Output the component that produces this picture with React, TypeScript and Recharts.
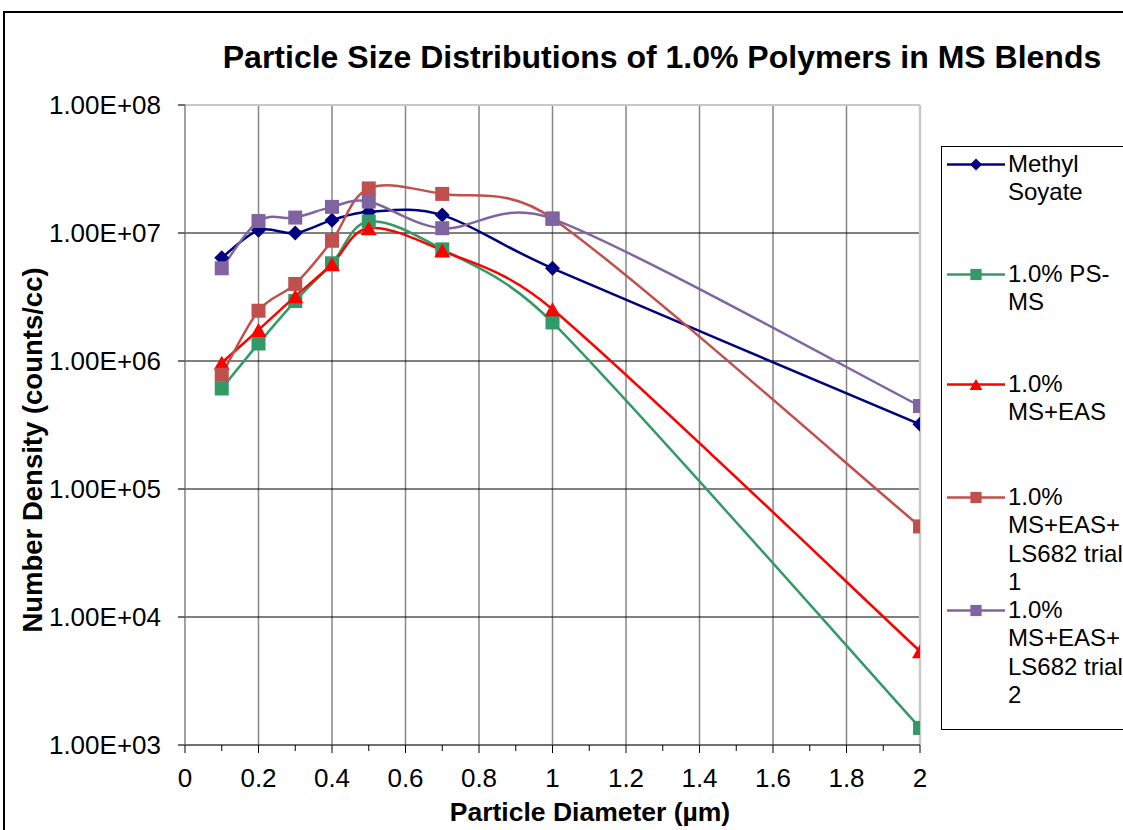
import React from "react";
import { LineChart, Line, XAxis, YAxis, ReferenceLine } from "recharts";

const FONT = '"Liberation Sans", Arial, Helvetica, sans-serif';

// ---- data ----
const diameters = [0.1, 0.2, 0.3, 0.4, 0.5, 0.7, 1.0, 2.0];
const methylSoyate = [6.4e6, 1.05e7, 1.0e7, 1.26e7, 1.46e7, 1.38e7, 5.3e6, 3.2e5];
const psMs = [6.1e5, 1.37e6, 2.94e6, 5.8e6, 1.23e7, 7.45e6, 2.0e6, 1.36e3];
const msEas = [9.7e5, 1.75e6, 3.2e6, 5.7e6, 1.09e7, 7.3e6, 2.54e6, 5.4e3];
const trial1 = [7.8e5, 2.47e6, 4.0e6, 8.7e6, 2.23e7, 2.02e7, 1.3e7, 5.1e4];
const trial2 = [5.3e6, 1.24e7, 1.32e7, 1.6e7, 1.76e7, 1.09e7, 1.29e7, 4.45e5];

const xTicks = [0, 0.1, 0.2, 0.3, 0.4, 0.5, 0.6, 0.7, 0.8, 0.9, 1.0, 1.1, 1.2, 1.3, 1.4, 1.5, 1.6, 1.7, 1.8, 1.9, 2.0];
const xGrid = [0.2, 0.4, 0.6, 0.8, 1.0, 1.2, 1.4, 1.6, 1.8];
const yTicks = [1e3, 1e4, 1e5, 1e6, 1e7, 1e8];
const yGrid = [1e4, 1e5, 1e6, 1e7];

const title = "Particle Size Distributions of 1.0% Polymers in MS Blends";
const xTitle = "Particle Diameter (\u00b5m)";
const yTitle = "Number Density (counts/cc)";

type Shape = "diamond" | "square" | "triangle";
const series: { key: string; name: string; lines: string[]; color: string; shape: Shape; values: number[] }[] = [
  { key: "ms", name: "Methyl Soyate", lines: ["Methyl", "Soyate"], color: "#000080", shape: "diamond", values: methylSoyate },
  { key: "ps", name: "1.0% PS-MS", lines: ["1.0% PS-", "MS"], color: "#339966", shape: "square", values: psMs },
  { key: "eas", name: "1.0% MS+EAS", lines: ["1.0%", "MS+EAS"], color: "#FF0000", shape: "triangle", values: msEas },
  { key: "t1", name: "1.0% MS+EAS+LS682 trial 1", lines: ["1.0%", "MS+EAS+", "LS682 trial", "1"], color: "#C0504D", shape: "square", values: trial1 },
  { key: "t2", name: "1.0% MS+EAS+LS682 trial 2", lines: ["1.0%", "MS+EAS+", "LS682 trial", "2"], color: "#8064A2", shape: "square", values: trial2 },
];

const rows = diameters.map((x, i) => {
  const r: any = { x };
  series.forEach((s) => (r[s.key] = s.values[i]));
  return r;
});

// Excel-like smoothed line: Catmull-Rom Bezier, control arms limited to half the segment
function excelCurve(context: any) {
  let pts: number[][] = [];
  const arm = (ax: number, ay: number, seg: number) => {
    const len = Math.hypot(ax, ay);
    const lim = seg / 2;
    if (len > lim && len > 0) {
      const k = lim / len;
      return [ax * k, ay * k];
    }
    return [ax, ay];
  };
  return {
    areaStart() {},
    areaEnd() {},
    lineStart() {
      pts = [];
    },
    point(x: number, y: number) {
      pts.push([+x, +y]);
    },
    lineEnd() {
      const n = pts.length;
      if (!n) return;
      context.moveTo(pts[0][0], pts[0][1]);
      if (n === 1) return;
      for (let i = 0; i < n - 1; i++) {
        const p0 = pts[i === 0 ? 0 : i - 1];
        const p1 = pts[i];
        const p2 = pts[i + 1];
        const p3 = pts[i + 2 < n ? i + 2 : n - 1];
        const seg = Math.hypot(p2[0] - p1[0], p2[1] - p1[1]);
        const a1 = arm((p2[0] - p0[0]) / 6, (p2[1] - p0[1]) / 6, seg);
        const a2 = arm((p3[0] - p1[0]) / 6, (p3[1] - p1[1]) / 6, seg);
        context.bezierCurveTo(p1[0] + a1[0], p1[1] + a1[1], p2[0] - a2[0], p2[1] - a2[1], p2[0], p2[1]);
      }
    },
  };
}

function Marker({ cx, cy, shape, color, scale = 1 }: { cx: number; cy: number; shape: Shape; color: string; scale?: number }) {
  if (shape === "diamond") {
    const r = 7.5 * scale;
    return <polygon points={`${cx},${cy - r} ${cx + r},${cy} ${cx},${cy + r} ${cx - r},${cy}`} fill={color} />;
  }
  if (shape === "triangle") {
    const w = 8 * scale;
    const h = 7 * scale;
    return <polygon points={`${cx},${cy - h} ${cx + w},${cy + h} ${cx - w},${cy + h}`} fill={color} />;
  }
  const s = 7 * scale;
  return <rect x={cx - s} y={cy - s} width={2 * s} height={2 * s} fill={color} />;
}

const makeDot = (shape: Shape, color: string) => (p: any) => {
  if (p.cx == null || p.cy == null) return <g key={p.index} />;
  return <Marker key={p.index} cx={p.cx} cy={p.cy} shape={shape} color={color} />;
};

const XTick = (p: any) => {
  const v = p.payload.value;
  const tenth = Math.round(v * 10);
  const major = tenth % 2 === 0;
  return (
    <g>
      <line x1={p.x} x2={p.x} y1={p.y} y2={p.y + (major ? 8 : 6)} stroke="#000" strokeWidth={1} />
      {major && (
        <text x={p.x} y={p.y + 42} textAnchor="middle" fontSize={26} fontFamily={FONT} fill="#000">
          {String(tenth / 10)}
        </text>
      )}
    </g>
  );
};

const fmtY = (v: number) => `1.00E+0${Math.round(Math.log10(v))}`;

function LegendBox() {
  const tops = [163, 273, 383, 496, 609];
  return (
    <div
      style={{
        position: "absolute",
        left: 941,
        top: 146,
        width: 400,
        height: 584,
        border: "1.5px solid #000",
        boxSizing: "border-box",
        background: "#fff",
      }}
    >
      {series.map((s, i) => (
        <div key={s.key} style={{ position: "absolute", left: 0, top: tops[i] - 146 - 14.5 }}>
          <svg width={66} height={29} style={{ position: "absolute", left: 1, top: 0 }}>
            <line x1={4} x2={62} y1={14.5} y2={14.5} stroke={s.color} strokeWidth={2.5} />
            <Marker cx={33} cy={14.5} shape={s.shape} color={s.color} scale={0.8} />
          </svg>
          <div
            style={{
              position: "absolute",
              left: 66,
              top: 0,
              fontFamily: FONT,
              fontSize: 24,
              lineHeight: "28.5px",
              whiteSpace: "nowrap",
              color: "#000",
            }}
          >
            {s.lines.map((l, j) => (
              <div key={j}>{l}</div>
            ))}
          </div>
        </div>
      ))}
    </div>
  );
}

export default function App() {
  return (
    <div style={{ position: "absolute", left: 0, top: 0, width: 1123, height: 830, overflow: "hidden", background: "#fff" }}>
      <div
        style={{
          position: "absolute",
          left: 3,
          top: 11,
          width: 1300,
          height: 1000,
          border: "2px solid #000",
          boxSizing: "border-box",
        }}
      />
      <div
        style={{
          position: "absolute",
          left: 662,
          top: 57,
          transform: "translate(-50%, -50%)",
          fontFamily: FONT,
          fontWeight: "bold",
          fontSize: 32,
          lineHeight: "32px",
          whiteSpace: "nowrap",
          color: "#000",
        }}
      >
        {title}
      </div>
      <div
        style={{
          position: "absolute",
          left: 33,
          top: 450,
          transform: "translate(-50%, -50%) rotate(-90deg)",
          fontFamily: FONT,
          fontWeight: "bold",
          fontSize: 27.5,
          lineHeight: "28px",
          whiteSpace: "nowrap",
          color: "#000",
        }}
      >
        {yTitle}
      </div>
      <div
        style={{
          position: "absolute",
          left: 590,
          top: 812,
          transform: "translate(-50%, -50%)",
          fontFamily: FONT,
          fontWeight: "bold",
          fontSize: 26.5,
          lineHeight: "27px",
          whiteSpace: "nowrap",
          color: "#000",
        }}
      >
        {xTitle}
      </div>
      <div style={{ position: "absolute", left: 0, top: 0 }}>
        <LineChart width={1123} height={830} data={rows} margin={{ top: 105, right: 203, bottom: 55, left: 105 }}>
          {xGrid.map((g) => (
            <ReferenceLine key={"vx" + g} x={g} stroke="#868686" strokeWidth={1.5} />
          ))}
          {yGrid.map((g) => (
            <ReferenceLine key={"hy" + g} y={g} stroke="#000" strokeWidth={1} />
          ))}
          <ReferenceLine y={1e8} stroke="#c8c8c8" strokeWidth={2} />
          <ReferenceLine x={2} stroke="#c8c8c8" strokeWidth={2.5} />
          <XAxis
            type="number"
            dataKey="x"
            domain={[0, 2]}
            ticks={xTicks}
            interval={0}
            tick={<XTick />}
            tickLine={false}
            tickSize={0}
            tickMargin={0}
            height={30}
            stroke="#404040"
            strokeWidth={1.5}
            allowDataOverflow
          />
          <YAxis
            type="number"
            scale="log"
            domain={[1e3, 1e8]}
            ticks={yTicks}
            interval={0}
            tickFormatter={fmtY}
            width={80}
            tickSize={7}
            tickMargin={17}
            stroke="#808080"
            strokeWidth={1.5}
            tickLine={{ stroke: "#404040" }}
            tick={{ fill: "#000", fontSize: 26, fontFamily: FONT }}
            allowDataOverflow
          />
          {series.map((s) => (
            <Line
              key={s.key}
              dataKey={s.key}
              name={s.name}
              type={excelCurve as any}
              stroke={s.color}
              strokeWidth={2.5}
              dot={makeDot(s.shape, s.color)}
              activeDot={false}
              isAnimationActive={false}
            />
          ))}
        </LineChart>
      </div>
      <LegendBox />
    </div>
  );
}
